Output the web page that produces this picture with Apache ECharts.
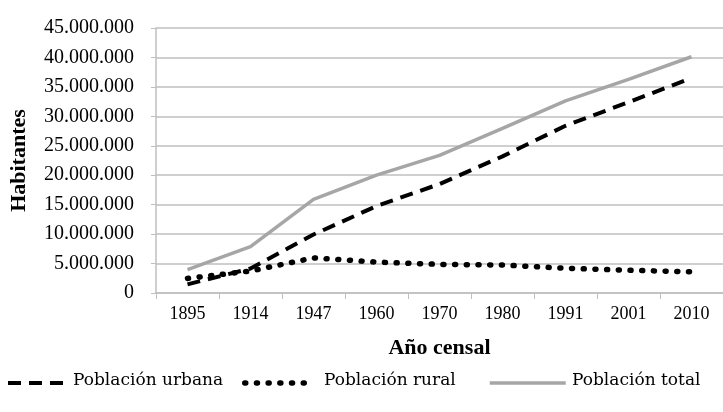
<!DOCTYPE html>
<html><head><meta charset="utf-8">
<script src="https://cdn.jsdelivr.net/npm/echarts@6/dist/echarts.min.js"></script>
<style>html,body{margin:0;padding:0;background:#fff}#c{width:723px;height:412px}</style>
</head><body><div id="c"></div>
<script>
const categories = ['1895','1914','1947','1960','1970','1980','1991','2001','2010'];
const urbana = [1470000, 4150000, 9930000, 14760000, 18500000, 23200000, 28400000, 32400000, 36500000];
const rural = [2480000, 3730000, 5960000, 5250000, 4860000, 4750000, 4210000, 3860000, 3600000];
const total = [3954911, 7885237, 15893827, 20013793, 23364431, 27949480, 32615528, 36260130, 40117096];
const seriesNames = ['Poblaci\u00f3n urbana', 'Poblaci\u00f3n rural', 'Poblaci\u00f3n total'];
const yTicks = { min: 0, max: 45000000, interval: 5000000 };

const serif = 'Liberation Serif, serif';
function fmt(v){ return String(v).replace(/\B(?=(\d{3})+(?!\d))/g, '.'); }

const styles = [
  { color: '#000', width: 4, type: [13, 8], cap: 'butt' },
  { color: '#000', width: 5.5, type: [1, 10.7], cap: 'round' },
  { color: '#a6a6a6', width: 3.5, type: 'solid', cap: 'butt' }
];
// legend layout: icon left, icon width, text left
const legendPos = [[6, 60, 73], [242, 62, 324], [488, 76, 572]];
const legendY = 383;

const chart = echarts.init(document.getElementById('c'), null, {renderer:'canvas'});
chart.setOption({
  animation: false,
  textStyle: { fontFamily: serif, color: '#000' },
  grid: { left: 153, right: -8, top: 28, bottom: 119, containLabel: false },
  legend: seriesNames.map((n, i) => ({
    left: legendPos[i][0], top: legendY - 5, padding: 0,
    itemWidth: legendPos[i][1], itemHeight: 10, itemGap: 0,
    itemStyle: { opacity: 0 },
    lineStyle: Object.assign({}, styles[i]),
    formatter: () => '',
    data: [n]
  })),
  graphic: seriesNames.map((n, i) => ({
    type: 'text', left: legendPos[i][2], top: legendY - 11,
    style: { text: n, fontFamily: '"DejaVu Serif", serif', fontSize: 17, fill: '#000' }
  })),
  xAxis: {
    type: 'category', data: categories, boundaryGap: true,
    name: 'A\u00f1o censal', nameLocation: 'middle', nameGap: 44,
    nameTextStyle: { fontFamily: serif, fontSize: 22, fontWeight: 'bold', color: '#000' },
    axisLine: { lineStyle: { color: '#bfbfbf', width: 1.5 } },
    axisTick: { show: true, length: 6, alignWithLabel: false, lineStyle: { color: '#bfbfbf' } },
    axisLabel: { fontFamily: serif, fontSize: 18, color: '#000', margin: 12 }
  },
  yAxis: {
    type: 'value', min: yTicks.min, max: yTicks.max, interval: yTicks.interval,
    name: 'Habitantes', nameLocation: 'middle', nameGap: 126,
    nameTextStyle: { fontFamily: serif, fontSize: 22, fontWeight: 'bold', color: '#000' },
    axisLine: { show: true, lineStyle: { color: '#bfbfbf', width: 1.5 } },
    axisTick: { show: true, length: 5, inside: false, lineStyle: { color: '#bfbfbf' } },
    axisLabel: { fontFamily: serif, fontSize: 20, color: '#000', margin: 22, formatter: fmt },
    splitLine: { lineStyle: { color: '#bfbfbf', width: 1.5 } }
  },
  series: [
    { name: seriesNames[0], type: 'line', data: urbana, symbol: 'none', z: 3,
      itemStyle: { color: '#000' }, lineStyle: styles[0] },
    { name: seriesNames[1], type: 'line', data: rural, symbol: 'none', z: 2,
      itemStyle: { color: '#000' }, lineStyle: styles[1] },
    { name: seriesNames[2], type: 'line', data: total, symbol: 'none', z: 1,
      itemStyle: { color: '#a6a6a6' }, lineStyle: styles[2] }
  ]
});
</script></body></html>
